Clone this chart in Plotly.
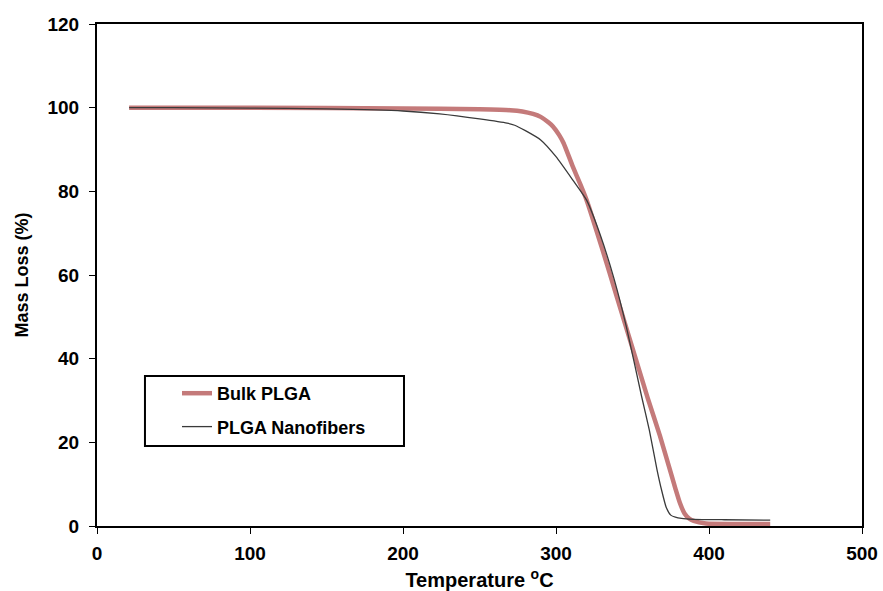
import plotly.graph_objects as go

# Bulk PLGA
bulk_temp = [21, 100, 200, 250, 270, 278, 285, 290, 295, 298, 302, 305, 311, 316, 320, 330,
             340, 350, 360, 368, 374, 378, 381, 384, 387, 390, 398, 420, 440]
bulk_mass = [100, 100, 99.8, 99.6, 99.4, 99.1, 98.5, 97.8, 96.5, 95.5, 93.5, 91.5, 85.9, 81.6, 77.9, 66.5,
             54.5, 42.5, 30.5, 21.5, 14, 9, 5.5, 3, 1.8, 1.2, 0.6, 0.5, 0.5]

# PLGA Nanofibers
nano_temp = [21, 50, 100, 150, 200, 224, 250, 268, 273, 280, 290, 300, 311, 320, 329, 338, 346,
             356, 361, 366, 369, 372, 375, 378, 382, 390, 410, 440]
nano_mass = [100, 100, 99.9, 99.7, 99.2, 98.5, 97.3, 96.3, 95.8, 94.5, 92.3, 88.3, 82.7, 77.9, 69.5, 59, 47.6,
             30.9, 22.9, 13.5, 8.6, 4.5, 2.6, 2.1, 1.8, 1.6, 1.5, 1.4]

series_names = ["Bulk PLGA", "PLGA Nanofibers"]
x_ticks = [0, 100, 200, 300, 400, 500]
y_ticks = [0, 20, 40, 60, 80, 100, 120]

FONT = "Liberation Sans, Arial, sans-serif"

fig = go.Figure()
fig.add_trace(go.Scatter(
    x=bulk_temp, y=bulk_mass, mode="lines", name="<b>" + series_names[0] + "</b>",
    line=dict(color="#c47a7a", width=4.5, shape="spline", smoothing=0.5),
    legendgroup="a"))
fig.add_trace(go.Scatter(
    x=nano_temp, y=nano_mass, mode="lines", name="<b>" + series_names[1] + "</b>",
    line=dict(color="#3a3a3a", width=1.3, shape="spline", smoothing=0.5),
    legendgroup="b"))

axis_common = dict(
    showgrid=False, zeroline=False, showline=True, linecolor="black", linewidth=2,
    mirror=True, ticks="outside", ticklen=6, tickwidth=1, tickcolor="black",
    tickfont=dict(family=FONT, size=19, color="black"),
)

fig.update_xaxes(
    range=[0, 500], tickvals=x_ticks, ticktext=["<b>%d</b>" % v for v in x_ticks],
    ticklabelstandoff=3,
    title=dict(text="<b>Temperature <sup>o</sup>C</b>", font=dict(family=FONT, size=20, color="black"),
               standoff=16),
    automargin=False, **axis_common)
fig.update_yaxes(
    range=[0, 120], tickvals=y_ticks, ticktext=["<b>%d</b>" % v for v in y_ticks],
    ticklabelstandoff=6,
    title=dict(text="<b>Mass Loss (%)</b>", font=dict(family=FONT, size=18, color="black"),
               standoff=14),
    automargin=False, **axis_common)

fig.update_layout(
    width=883, height=591,
    margin=dict(l=97, r=21, t=24, b=65),
    plot_bgcolor="white", paper_bgcolor="white",
    font=dict(family=FONT, color="black"),
    legend=dict(x=0.1046, y=0.3008, xanchor="left", yanchor="top",
                borderwidth=0, bgcolor="rgba(0,0,0,0)",
                font=dict(family=FONT, size=18, color="black"),
                tracegroupgap=7, itemwidth=30),
    shapes=[dict(type="rect", xref="paper", yref="paper",
                 x0=0.0627, x1=0.4013, y0=0.1594, y1=0.2988,
                 line=dict(color="black", width=2), fillcolor="rgba(0,0,0,0)", layer="above")],
)

fig.write_html("out.html")
